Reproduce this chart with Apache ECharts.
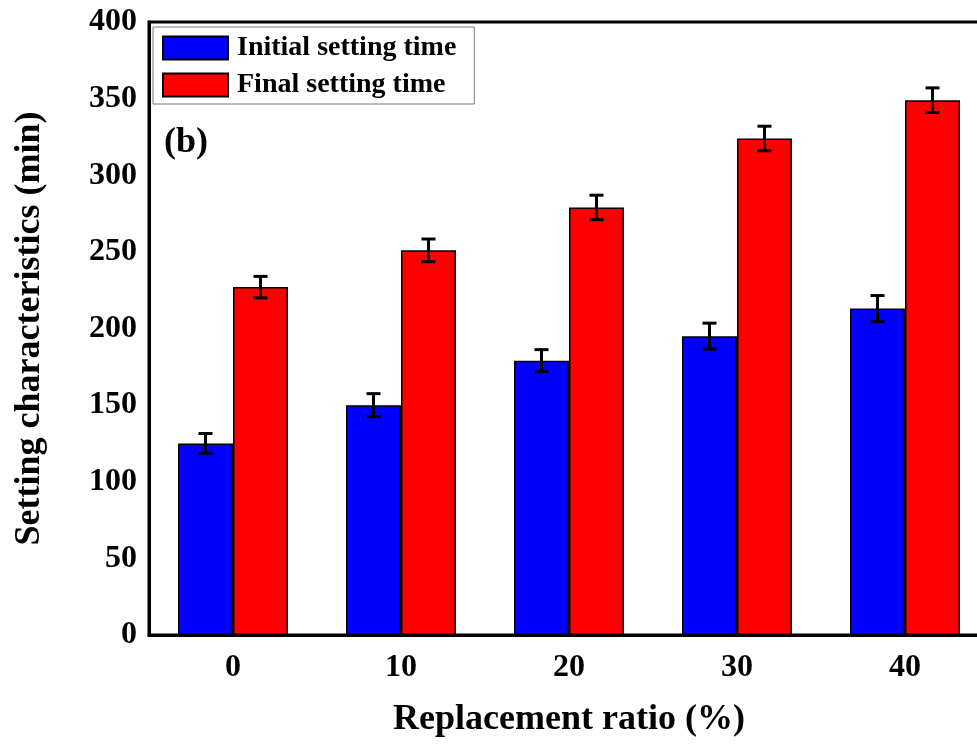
<!DOCTYPE html>
<html>
<head>
<meta charset="utf-8">
<title>Setting characteristics</title>
<script src="https://cdn.jsdelivr.net/npm/echarts@6/dist/echarts.min.js"></script>
<style>
  html, body { margin: 0; padding: 0; background: #fff; }
  #chart { width: 977px; height: 745px; }
</style>
</head>
<body>
<div id="chart"></div>
<script>
// Replacement ratio categories (%)
const categories = ['0', '10', '20', '30', '40'];

// Setting times (min) with their error margins
const initialTime = [125, 150, 179, 195, 213];
const initialErr  = [6.5, 7.5, 7.2, 8.5, 8.5];
const finalTime   = [227, 251, 279, 324, 349];
const finalErr    = [7, 7.4, 8, 8, 8];

// Y-axis ticks
const yMin = 0, yMax = 400, yStep = 50;

const FONT = '"Liberation Serif", "DejaVu Serif", serif';
const BAR_W = 55;

const chart = echarts.init(document.getElementById('chart'), null, { renderer: 'canvas' });

function errorSeries(values, errs, side) {
  return {
    type: 'custom',
    name: side < 0 ? 'err-initial' : 'err-final',
    silent: true,
    z: 10,
    data: values.map((v, i) => [i, v, errs[i]]),
    encode: { x: 0, y: 1 },
    renderItem: function (params, api) {
      const i = api.value(0);
      const v = api.value(1);
      const e = api.value(2);
      const hi = api.coord([i, v + e]);
      const lo = api.coord([i, v - e]);
      const x = hi[0] + side * BAR_W / 2;
      const cap = 7;
      const style = { stroke: '#000', lineWidth: 3 };
      return {
        type: 'group',
        children: [
          { type: 'line', shape: { x1: x, y1: hi[1], x2: x, y2: lo[1] }, style },
          { type: 'line', shape: { x1: x - cap, y1: hi[1], x2: x + cap, y2: hi[1] }, style },
          { type: 'line', shape: { x1: x - cap, y1: lo[1], x2: x + cap, y2: lo[1] }, style }
        ]
      };
    }
  };
}

chart.setOption({
  animation: false,
  backgroundColor: '#fff',
  textStyle: { fontFamily: FONT },
  // the plot frame runs past the right edge of the page
  grid: {
    left: 149, top: 22, bottom: 110, right: -12,
    outerBoundsMode: 'none',
    show: true, borderColor: '#000', borderWidth: 3
  },
  legend: {
    data: ['Initial setting time', 'Final setting time'],
    orient: 'vertical',
    left: 153, top: 27,
    itemWidth: 65, itemHeight: 23, itemGap: 9,
    padding: [7, 18, 5, 9],
    borderColor: '#777', borderWidth: 1,
    icon: 'rect',
    textStyle: { fontFamily: FONT, fontWeight: 'bold', fontSize: 28, color: '#000', padding: [0, 0, 0, 4] }
  },
  graphic: [{
    type: 'text', left: 164, top: 125,
    style: { text: '(b)', fontFamily: FONT, fontWeight: 'bold', fontSize: 36, fill: '#000' }
  }],
  xAxis: {
    type: 'category',
    data: categories,
    name: 'Replacement ratio (%)',
    nameLocation: 'middle',
    nameGap: 67,
    nameTextStyle: { fontFamily: FONT, fontWeight: 'bold', fontSize: 36, color: '#000' },
    axisLine: { lineStyle: { color: '#000', width: 3 } },
    axisTick: { show: false },
    axisLabel: { margin: 17, fontFamily: FONT, fontWeight: 'bold', fontSize: 32, color: '#000' }
  },
  yAxis: {
    type: 'value',
    min: yMin, max: yMax, interval: yStep,
    name: 'Setting characteristics (min)',
    nameLocation: 'middle',
    nameGap: 101,
    nameTextStyle: { fontFamily: FONT, fontWeight: 'bold', fontSize: 36, color: '#000' },
    axisLine: { show: true, lineStyle: { color: '#000', width: 3 } },
    axisTick: { show: false },
    splitLine: { show: false },
    axisLabel: { margin: 12, fontFamily: FONT, fontWeight: 'bold', fontSize: 32, color: '#000' }
  },
  series: [
    {
      name: 'Initial setting time', type: 'bar', data: initialTime,
      barWidth: BAR_W, barGap: '0%',
      itemStyle: { color: '#0000ff', borderColor: '#000', borderWidth: 1.5 }
    },
    {
      name: 'Final setting time', type: 'bar', data: finalTime,
      barWidth: BAR_W, barGap: '0%',
      itemStyle: { color: '#ff0000', borderColor: '#000', borderWidth: 1.5 }
    },
    errorSeries(initialTime, initialErr, -1),
    errorSeries(finalTime, finalErr, 1)
  ]
});
</script>
</body>
</html>
